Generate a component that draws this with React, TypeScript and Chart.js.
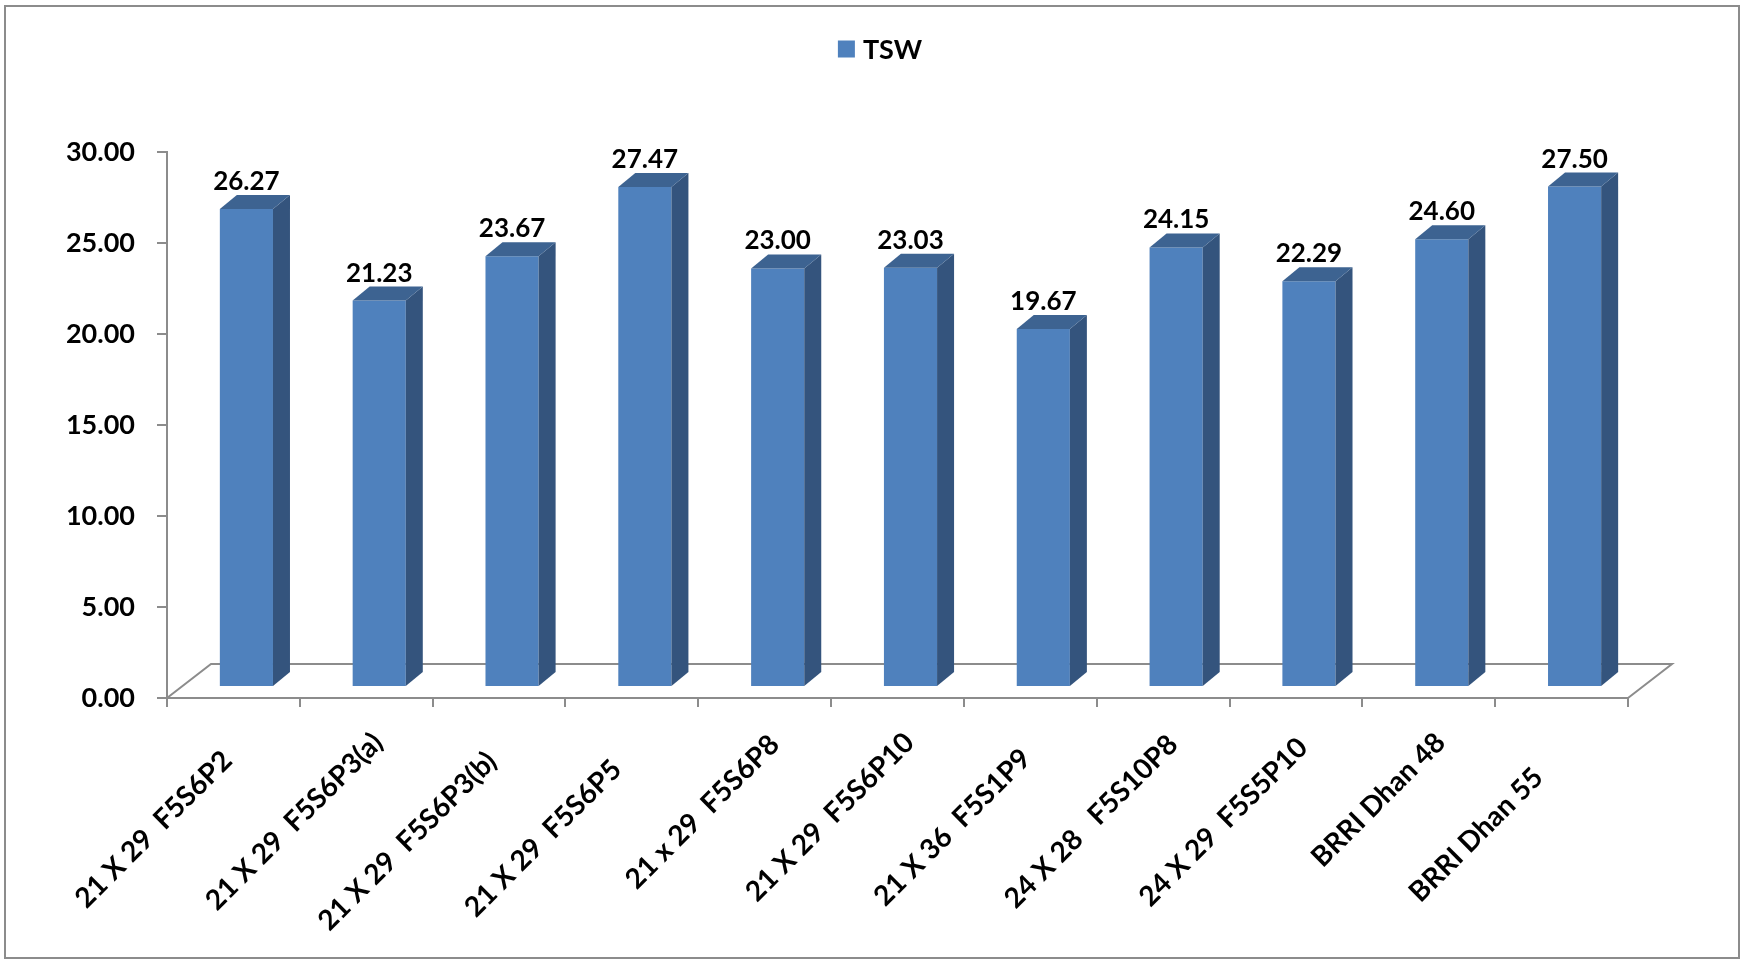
import React, { useEffect, useRef } from "react";
import { Chart, registerables } from "chart.js";

Chart.register(...registerables);

// Thousand-seed weight per genotype
const categories = [
  "21 X 29  F5S6P2",
  "21 X 29  F5S6P3(a)",
  "21 X 29  F5S6P3(b)",
  "21 X 29  F5S6P5",
  "21 x 29  F5S6P8",
  "21 X 29  F5S6P10",
  "21 X 36  F5S1P9",
  "24 X 28   F5S10P8",
  "24 X 29  F5S5P10",
  "BRRI Dhan 48",
  "BRRI Dhan 55",
];
const tswValues = [26.27, 21.23, 23.67, 27.47, 23.0, 23.03, 19.67, 24.15, 22.29, 24.6, 27.5];
const seriesName = "TSW";
const yMin = 0;
const yMax = 30;
const yStep = 5;

const FRONT = "#4F81BD";
const SIDE = "#34547D";
const TOP = "#3D6391";
const GREY = "#8C8C8C";
const FONT = "Lato, 'Open Sans', sans-serif";

// floor depth of the pseudo-3D plot
const FLOOR_DX = 44;
const FLOOR_DY = 34;
// bars sit part-way back on the floor
const BAR_SHIFT_X = 13;
const BAR_SHIFT_Y = 11;
// bar depth (side and top faces)
const BAR_DX = 17;
const BAR_DY = 14;

// rotated category labels: end of each label sits on a 45° line through its tick,
// slid down-left by a per-label amount (layout only)
const X_LABEL_SIZE = 28;
const X_LABEL_TOP = 730;
const X_LABEL_DX = 4;
const xLabelSlide = [18, 0, 19, 27, 2, 0, 16, 2, 5, 0, 35];

const W = 1742;
const H = 964;

const framePlugin = {
  id: "frame",
  beforeDraw(chart: any) {
    const ctx = chart.ctx;
    ctx.save();
    ctx.fillStyle = "#ffffff";
    ctx.fillRect(0, 0, chart.width, chart.height);
    ctx.strokeStyle = GREY;
    ctx.lineWidth = 2;
    ctx.strokeRect(5, 6, chart.width - 8, chart.height - 12);
    ctx.restore();
  },
  afterDraw(chart: any) {
    const ctx = chart.ctx;

    // legend
    const ds = chart.data.datasets[0];
    ctx.save();
    ctx.font = `bold 27px ${FONT}`;
    const tw = ctx.measureText(ds.label).width;
    const box = 17;
    const gap = 8;
    const total = box + gap + tw;
    const cx = chart.width / 2 + 9;
    const cy = 49;
    const x0 = cx - total / 2;
    ctx.fillStyle = ds.backgroundColor;
    ctx.fillRect(x0, cy - box / 2, box, box);
    ctx.fillStyle = "#000";
    ctx.textBaseline = "middle";
    ctx.textAlign = "left";
    ctx.fillText(ds.label, x0 + box + gap, cy + 1);
    ctx.restore();

    // rotated category labels
    const xs = chart.scales.x;
    const labels = chart.data.labels as string[];
    ctx.save();
    ctx.font = `bold ${X_LABEL_SIZE}px ${FONT}`;
    ctx.fillStyle = "#000";
    ctx.textAlign = "right";
    ctx.textBaseline = "alphabetic";
    const cap = X_LABEL_SIZE * 0.72;
    labels.forEach((lab, i) => {
      const s = xLabelSlide[i] || 0;
      const ex = xs.getPixelForTick(i) + X_LABEL_DX - s;
      const ey = X_LABEL_TOP + s;
      ctx.save();
      ctx.translate(ex, ey);
      ctx.rotate(-Math.PI / 4);
      ctx.fillText(lab, 0, cap);
      ctx.restore();
    });
    ctx.restore();
  },
};

const depthPlugin = {
  id: "depth",
  beforeDatasetsDraw(chart: any) {
    const ctx = chart.ctx;
    const { left, right, bottom } = chart.chartArea;
    ctx.save();
    ctx.strokeStyle = GREY;
    ctx.lineWidth = 2;
    ctx.beginPath();
    ctx.moveTo(left, bottom);
    ctx.lineTo(left + FLOOR_DX, bottom - FLOOR_DY);
    ctx.lineTo(right + FLOOR_DX, bottom - FLOOR_DY);
    ctx.lineTo(right, bottom);
    ctx.stroke();
    ctx.restore();
    // bars are drawn set back on the floor
    ctx.save();
    ctx.translate(BAR_SHIFT_X, -BAR_SHIFT_Y);
  },
  afterDatasetsDraw(chart: any) {
    const ctx = chart.ctx;
    const meta = chart.getDatasetMeta(0);
    const values = chart.data.datasets[0].data;
    meta.data.forEach((bar: any, i: number) => {
      const { x, y, base, width } = bar.getProps(["x", "y", "base", "width"], true);
      const l = x - width / 2;
      const r = x + width / 2;
      // side face
      ctx.fillStyle = SIDE;
      ctx.beginPath();
      ctx.moveTo(r, y);
      ctx.lineTo(r + BAR_DX, y - BAR_DY);
      ctx.lineTo(r + BAR_DX, base - BAR_DY);
      ctx.lineTo(r, base);
      ctx.closePath();
      ctx.fill();
      // top face
      ctx.fillStyle = TOP;
      ctx.beginPath();
      ctx.moveTo(l, y);
      ctx.lineTo(l + BAR_DX, y - BAR_DY);
      ctx.lineTo(r + BAR_DX, y - BAR_DY);
      ctx.lineTo(r, y);
      ctx.closePath();
      ctx.fill();
      // value label
      ctx.fillStyle = "#000";
      ctx.font = `bold 26px ${FONT}`;
      ctx.textAlign = "center";
      ctx.textBaseline = "alphabetic";
      ctx.fillText(Number(values[i]).toFixed(2), x, y - BAR_DY - 5);
    });
    ctx.restore();
  },
};

export default function App() {
  const canvasRef = useRef<HTMLCanvasElement | null>(null);

  useEffect(() => {
    document.body.style.margin = "0";
    const canvas = canvasRef.current;
    if (!canvas) return;
    const chart = new Chart(canvas, {
      type: "bar",
      data: {
        labels: categories,
        datasets: [
          {
            label: seriesName,
            data: tswValues,
            backgroundColor: FRONT,
            borderWidth: 0,
            barPercentage: 0.4,
            categoryPercentage: 1,
            clip: false as any,
          },
        ],
      },
      options: {
        responsive: false,
        animation: false,
        devicePixelRatio: 1,
        layout: { padding: { top: 152, left: 0, right: 114, bottom: 0 } },
        plugins: {
          legend: { display: false },
          tooltip: { enabled: false },
        },
        scales: {
          x: {
            afterFit: (scale: any) => {
              scale.height = 266;
            },
            grid: {
              display: true,
              drawOnChartArea: false,
              drawTicks: true,
              tickLength: 9,
              color: GREY,
              lineWidth: 2,
              offset: true,
            },
            border: { display: true, color: GREY, width: 2 },
            ticks: {
              display: false,
              autoSkip: false,
            },
          },
          y: {
            min: yMin,
            max: yMax,
            afterFit: (scale: any) => {
              scale.width = 167;
            },
            grid: {
              display: true,
              drawOnChartArea: false,
              drawTicks: true,
              tickLength: 10,
              color: GREY,
              lineWidth: 2,
            },
            border: { display: true, color: GREY, width: 2 },
            ticks: {
              stepSize: yStep,
              padding: 22,
              color: "#000",
              font: { family: FONT, weight: "bold", size: 27 },
              callback: (v: any) => Number(v).toFixed(2),
            },
          },
        },
      },
      plugins: [framePlugin, depthPlugin],
    });
    return () => chart.destroy();
  }, []);

  return (
    <div style={{ width: W, height: H }}>
      <canvas ref={canvasRef} width={W} height={H} style={{ display: "block" }} />
    </div>
  );
}
